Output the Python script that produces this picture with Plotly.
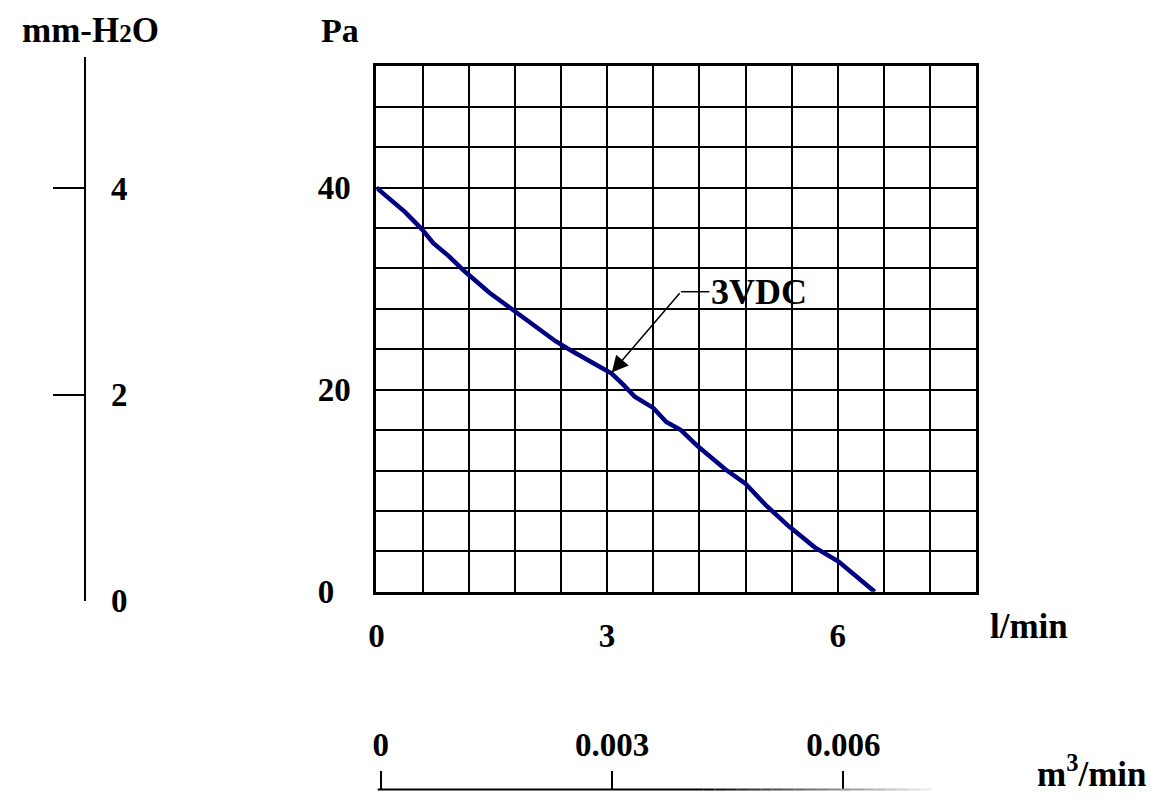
import plotly.graph_objects as go

# ---- data ----
flow_lpm = [0, 0.37, 0.59, 0.74, 0.93, 1.15, 1.47, 1.79, 2.09, 2.33, 2.57, 2.87, 3.06,
            3.21, 3.36, 3.60, 3.77, 3.96, 4.18, 4.54, 4.80, 5.06, 5.36, 5.70, 6.01, 6.48]
pressure_pa = [40, 37.6, 35.9, 34.5, 33.3, 31.7, 29.6, 27.8, 26.1, 24.8, 23.7, 22.4, 21.6,
               20.5, 19.3, 18.2, 16.8, 16.0, 14.4, 12.1, 10.7, 8.6, 6.5, 4.4, 3.0, 0]
series_name = "3VDC"

x_ticks = [0, 3, 6]
x_ticktext = ["0", "3", "6"]
y_ticks = [0, 20, 40]
y_ticktext = ["0\u2007", "20", "40"]
mm_ticks = [0, 2, 4]
mm_ticktext = ["0", "2", "4"]
m3_ticks = [0, 0.003, 0.006]
m3_ticktext = ["0", "0.003", "0.006"]

W, H = 1151, 810
FONT = "Liberation Serif"
FS = 33


def px_x(p):
    return p / W


def px_y(p):
    return 1 - p / H


# m3/min axis scale (pixels per m3/min) and pixel position of its zero
M3_SCALE = 77617.0
M3_ZERO = 375.4
m3_lo = (372 - M3_ZERO) / M3_SCALE
m3_hi = (930 - M3_ZERO) / M3_SCALE

fig = go.Figure()
fig.add_trace(go.Scatter(x=flow_lpm, y=pressure_pa, mode="lines", name=series_name,
                         line=dict(color="#000080", width=4.5), showlegend=False,
                         hoverinfo="skip"))
# anchor trace for the secondary (mm-H2O / m3/min) axes
fig.add_trace(go.Scatter(x=[None], y=[None], xaxis="x2", yaxis="y2", showlegend=False,
                         hoverinfo="skip"))

fig.update_layout(
    width=W, height=H,
    margin=dict(l=0, r=0, t=0, b=0),
    paper_bgcolor="white", plot_bgcolor="rgba(0,0,0,0)",
    font=dict(family=FONT, size=FS, color="black", weight="bold"),
    showlegend=False,
    xaxis=dict(domain=[px_x(371), px_x(975)], range=[0, 7.8],
               tickvals=x_ticks, ticktext=x_ticktext, ticks="",
               showgrid=True, gridcolor="black", gridwidth=2,
               minor=dict(dtick=0.6, tick0=0, showgrid=True, gridcolor="black", gridwidth=2),
               showline=True, mirror=True, linecolor="black", linewidth=3,
               zeroline=False, ticklabelstandoff=13, fixedrange=True),
    yaxis=dict(domain=[px_y(606), px_y(68)], range=[0, 52],
               tickvals=y_ticks, ticktext=y_ticktext, ticks="",
               showgrid=True, gridcolor="black", gridwidth=2,
               minor=dict(dtick=4, tick0=0, showgrid=True, gridcolor="black", gridwidth=2),
               showline=True, mirror=True, linecolor="black", linewidth=3,
               zeroline=False, ticklabelstandoff=16, fixedrange=True),
    xaxis2=dict(domain=[px_x(372), px_x(930)], range=[m3_lo, m3_hi],
                anchor="free", position=px_y(809), side="top",
                tickvals=m3_ticks, ticktext=m3_ticktext,
                ticks="outside", ticklen=19, tickwidth=2, tickcolor="black",
                showline=False, showgrid=False, zeroline=False,
                ticklabelstandoff=2, fixedrange=True),
    yaxis2=dict(domain=[px_y(615), px_y(58)], range=[0, (615 - 58) / 105.5],
                anchor="free", position=px_x(78), side="right",
                tickvals=mm_ticks, ticktext=mm_ticktext,
                ticks="inside", ticklen=31, tickwidth=2, tickcolor="black",
                showline=True, linecolor="black", linewidth=2,
                showgrid=False, zeroline=False, ticklabelstandoff=18, fixedrange=True),
)

# bottom m3/min baseline with fading right end
shapes = []
fade_start = (700 - M3_ZERO) / M3_SCALE
shapes.append(dict(type="line", xref="x2", yref="paper", x0=m3_lo, x1=fade_start,
                   y0=px_y(808.5), y1=px_y(808.5), line=dict(color="black", width=2)))
n = 20
for i in range(n):
    a = fade_start + (m3_hi - fade_start) * i / n
    b = fade_start + (m3_hi - fade_start) * (i + 1) / n
    g = int(round(240 * (i + 0.5) / n))
    shapes.append(dict(type="line", xref="x2", yref="paper", x0=a, x1=b,
                       y0=px_y(808.5), y1=px_y(808.5),
                       line=dict(color=f"rgb({g},{g},{g})", width=2)))

# leader for the 3VDC label
label_x, label_y = 4.33, 29.7
elbow_x = 3.96
tip_x, tip_y = 3.06, 21.7
shapes.append(dict(type="line", xref="x", yref="y", x0=elbow_x, x1=label_x,
                   y0=label_y, y1=label_y, line=dict(color="black", width=1.5)))
fig.update_layout(shapes=shapes)

annotations = [
    dict(text="mm-H<span style='font-size:25px'>2</span>O", x=px_x(83), y=px_y(31),
         xref="paper", yref="paper", showarrow=False, xanchor="center", yanchor="middle",
         font=dict(size=35)),
    dict(text="Pa", x=px_x(334), y=px_y(31), xref="paper", yref="paper",
         showarrow=False, xanchor="center", yanchor="middle", font=dict(size=34)),
    dict(text="l/min", x=px_x(1028), y=px_y(642), xref="paper", yref="paper",
         showarrow=False, xanchor="center", yanchor="middle", font=dict(size=35)),
    dict(text="m<sup>3</sup>/min", x=px_x(1091), y=px_y(790), xref="paper", yref="paper",
         showarrow=False, xanchor="center", yanchor="middle", font=dict(size=35)),
    dict(text=series_name, x=label_x, y=label_y, xref="x", yref="y",
         showarrow=False, xanchor="left", yanchor="middle", font=dict(size=36)),
    dict(text="", x=tip_x, y=tip_y, xref="x", yref="y", axref="x", ayref="y",
         ax=elbow_x, ay=label_y, showarrow=True, arrowhead=2, arrowsize=2.2,
         arrowwidth=1.5, arrowcolor="black", standoff=0, startstandoff=0),
]
fig.update_layout(annotations=annotations)

post = (
    "document.documentElement.style.margin='0';"
    "document.body.style.margin='0';"
    "document.body.style.overflow='hidden';"
    "var gd=document.getElementById('{plot_id}');"
    "gd.style.position='fixed';gd.style.top='0px';gd.style.left='0px';"
)
fig.write_html("out.html", config={"displayModeBar": False}, post_script=post)
